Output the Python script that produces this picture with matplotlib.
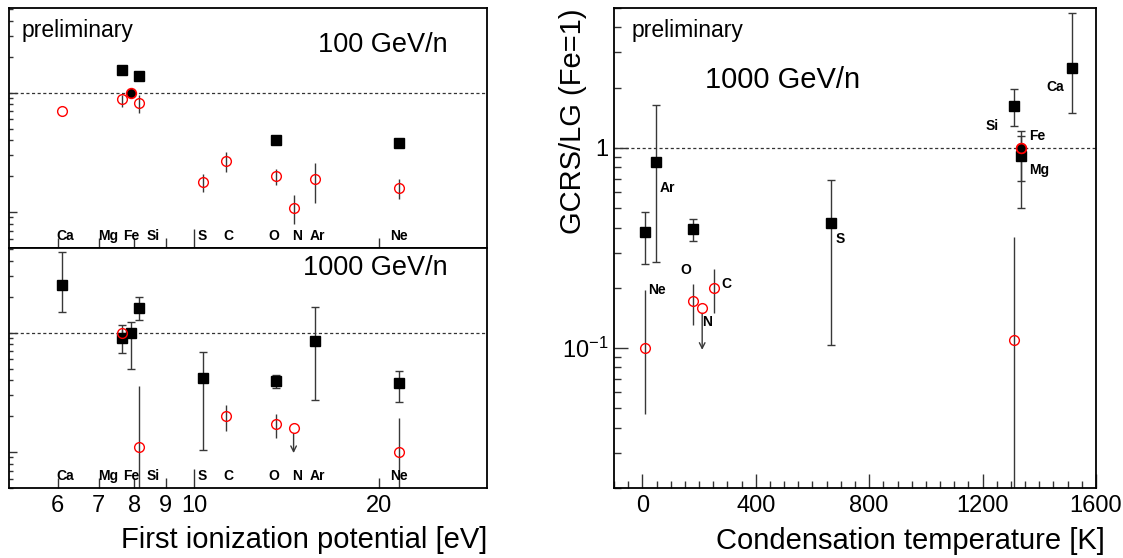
import numpy as np
import matplotlib.pyplot as plt
from matplotlib.ticker import FixedLocator, FixedFormatter, NullFormatter, LogLocator, MultipleLocator

plt.rcParams['font.family'] = ['Liberation Sans', 'DejaVu Sans']
plt.rcParams['mathtext.default'] = 'regular'

nan = np.nan

ELEMENTS = ['Ca', 'Mg', 'Fe', 'Si', 'S', 'C', 'O', 'N', 'Ar', 'Ne']
FIP_EV = [6.11, 7.65, 7.90, 8.15, 10.36, 11.26, 13.62, 14.53, 15.76, 21.56]
COND_TEMP_K = [1517, 1336, 1334, 1310, 664, 251, 180, 211, 47, 9]
FE = ELEMENTS.index('Fe')

# 100 GeV/n : black squares / red open circles
SQ_100 = [nan, 1.53, nan, 1.38, nan, nan, 0.397, nan, nan, 0.377]
CI_100 = [0.707, 0.891, nan, 0.815, 0.178, 0.268, 0.200, 0.109, 0.188, 0.158]
CI_100_HI = [0.707, 0.956, nan, 0.956, 0.209, 0.317, 0.228, 0.140, 0.256, 0.188]
CI_100_LO = [0.707, 0.764, nan, 0.672, 0.148, 0.218, 0.169, 0.080, 0.120, 0.129]
FE_REF_100 = [1.0, 1.08, 0.93]

# 1000 GeV/n
SQ_1000 = [2.52, 0.908, 1.0, 1.62, 0.42, nan, 0.394, nan, 0.847, 0.381]
SQ_1000_HI = [4.71, 1.15, 1.22, 1.98, 0.69, nan, 0.443, nan, 1.63, 0.48]
SQ_1000_LO = [1.49, 0.68, 0.50, 1.28, 0.104, nan, 0.343, nan, 0.27, 0.262]
CI_1000 = [nan, 1.0, nan, 0.11, nan, 0.20, 0.171, 0.159, nan, 0.10]
CI_1000_HI = [nan, 1.06, nan, 0.36, nan, 0.248, 0.209, nan, nan, 0.194]
CI_1000_LO = [nan, 0.95, nan, 0.01, nan, 0.15, 0.131, nan, nan, 0.047]
N_LIMIT_1000 = 0.098

# label layout
FIP_LABEL_X = [6.18, 7.24, 7.91, 8.58, 10.33, 11.4, 13.5, 14.7, 15.9, 21.6]
TC_LABEL_ANCHOR = ['sq', 'sq', 'sq', 'sq', 'sq', 'ci', 'ci', 'ci', 'sq', 'ci']
TC_LABEL_OFFSET = [(-17, -19), (18, -14), (17, 12), (-22, -20), (10, -16),
                   (13, 4), (-8, 31), (5, -14), (12, -26), (12, 58)]

ERR_COLOR = '#383838'


def errs(val, hi, lo):
    val = np.array(val, float)
    return [val - np.array(lo, float), np.array(hi, float) - val]


def squares(ax, x, val, hi=None, lo=None, skip=None):
    x = np.array(x, float)
    val = np.array(val, float)
    if hi is not None:
        ax.errorbar(x, val, yerr=errs(val, hi, lo), fmt='none', ecolor=ERR_COLOR,
                    elinewidth=1.0, capsize=3.2, capthick=1.0, zorder=2)
    shown = val.copy()
    if skip is not None:
        shown[skip] = nan
    ax.plot(x, shown, 's', color='black', ms=6.6, zorder=3)


def circles(ax, x, val, hi, lo):
    x = np.array(x, float)
    val = np.array(val, float)
    ax.errorbar(x, val, yerr=errs(val, hi, lo), fmt='none', ecolor=ERR_COLOR,
                elinewidth=1.0, capsize=0, zorder=2)
    ax.plot(x, val, 'o', mfc='none', mec='red', mew=1.0, ms=7, zorder=4)


def fe_reference(ax, x, ref):
    ax.errorbar([x], [ref[0]], yerr=[[ref[0] - ref[2]], [ref[1] - ref[0]]], fmt='none',
                ecolor=ERR_COLOR, elinewidth=1.0, capsize=0, zorder=2)
    ax.plot([x], [ref[0]], 'o', mfc='black', mec='red', mew=1.2, ms=7, zorder=5)


def upper_limit(ax, x, y0, y1):
    ax.annotate('', xy=(x, y1), xytext=(x, y0),
                arrowprops=dict(arrowstyle='->', color=ERR_COLOR, lw=1.0,
                                shrinkA=4, shrinkB=0, mutation_scale=10))


def setup_fip_axis(ax, show_labels):
    ax.set_xscale('log')
    ax.set_yscale('log')
    ax.set_xlim(5, 30)
    ax.set_ylim(0.05, 5.1)
    ax.xaxis.set_major_locator(FixedLocator([10]))
    ax.xaxis.set_minor_locator(FixedLocator([6, 7, 8, 9, 20]))
    if show_labels:
        ax.xaxis.set_major_formatter(FixedFormatter(['10']))
        ax.xaxis.set_minor_formatter(FixedFormatter(['6', '7', '8', '9', '20']))
    else:
        ax.xaxis.set_major_formatter(NullFormatter())
        ax.xaxis.set_minor_formatter(NullFormatter())
    ax.yaxis.set_major_locator(FixedLocator([0.1, 1]))
    ax.yaxis.set_minor_locator(LogLocator(base=10, subs=np.arange(2, 10)))
    ax.yaxis.set_major_formatter(NullFormatter())
    ax.yaxis.set_minor_formatter(NullFormatter())
    ax.tick_params(which='both', direction='in', top=False, right=False,
                   labelsize=17, pad=5, width=1.0, color='#333333')
    ax.tick_params(axis='x', which='major', length=14)
    ax.tick_params(axis='x', which='minor', length=7)
    ax.tick_params(axis='y', which='major', length=6)
    ax.tick_params(axis='y', which='minor', length=3)
    for s in ax.spines.values():
        s.set_linewidth(1.3)
    ax.axhline(1, ls=(0, (2.5, 2)), lw=0.9, color='#333333', zorder=1)
    for name, lx in zip(ELEMENTS, FIP_LABEL_X):
        ax.text(lx, 0.05, name, transform=ax.get_xaxis_transform(), ha='center',
                va='center', fontsize=10, fontweight='bold')


fig = plt.figure(figsize=(11.23, 5.58), dpi=100)
ax_top = fig.add_axes([9 / 1123, 310 / 558, 478 / 1123, 240 / 558])
ax_bot = fig.add_axes([9 / 1123, 70 / 558, 478 / 1123, 240 / 558])
ax_r = fig.add_axes([614 / 1123, 70 / 558, 482 / 1123, 480 / 558])

# upper left : 100 GeV/n
setup_fip_axis(ax_top, False)
squares(ax_top, FIP_EV, SQ_100)
circles(ax_top, FIP_EV, CI_100, CI_100_HI, CI_100_LO)
fe_reference(ax_top, FIP_EV[FE], FE_REF_100)
ax_top.text(0.027, 0.908, 'preliminary', transform=ax_top.transAxes, fontsize=16.5,
            ha='left', va='center')
ax_top.text(0.918, 0.846, '100 GeV/n', transform=ax_top.transAxes, fontsize=19.5,
            ha='right', va='center')

# lower left : 1000 GeV/n
setup_fip_axis(ax_bot, True)
squares(ax_bot, FIP_EV, SQ_1000, SQ_1000_HI, SQ_1000_LO)
circles(ax_bot, FIP_EV, CI_1000, CI_1000_HI, CI_1000_LO)
n_idx = ELEMENTS.index('N')
upper_limit(ax_bot, FIP_EV[n_idx], CI_1000[n_idx], N_LIMIT_1000)
ax_bot.text(0.918, 0.917, '1000 GeV/n', transform=ax_bot.transAxes, fontsize=19.5,
            ha='right', va='center')
ax_bot.set_xlabel('First ionization potential [eV]', fontsize=21, loc='right')
ax_bot.xaxis.set_label_coords(1.0, -0.16)

# right : vs condensation temperature
ax_r.set_yscale('log')
ax_r.set_xlim(-100, 1600)
ax_r.set_ylim(0.02, 5)
ax_r.axhline(1, ls=(0, (2.5, 2)), lw=0.9, color='#333333', zorder=1)
squares(ax_r, COND_TEMP_K, SQ_1000, SQ_1000_HI, SQ_1000_LO, skip=FE)
circles(ax_r, COND_TEMP_K, CI_1000, CI_1000_HI, CI_1000_LO)
fe_reference(ax_r, COND_TEMP_K[FE], [1.0, 1.0, 1.0])
upper_limit(ax_r, COND_TEMP_K[n_idx], CI_1000[n_idx], N_LIMIT_1000)
for i, name in enumerate(ELEMENTS):
    yv = SQ_1000[i] if TC_LABEL_ANCHOR[i] == 'sq' else CI_1000[i]
    ax_r.annotate(name, xy=(COND_TEMP_K[i], yv), xytext=TC_LABEL_OFFSET[i],
                  textcoords='offset pixels', ha='center', va='center',
                  fontsize=10, fontweight='bold')
ax_r.text(0.037, 0.954, 'preliminary', transform=ax_r.transAxes, fontsize=16.5,
          ha='left', va='center')
ax_r.text(0.189, 0.85, '1000 GeV/n', transform=ax_r.transAxes, fontsize=21,
          ha='left', va='center')

ax_r.xaxis.set_major_locator(MultipleLocator(400))
ax_r.xaxis.set_minor_locator(MultipleLocator(50))
ax_r.yaxis.set_major_locator(FixedLocator([0.1, 1]))
ax_r.yaxis.set_major_formatter(FixedFormatter(['$10^{-1}$', '1']))
ax_r.yaxis.set_minor_locator(LogLocator(base=10, subs=np.arange(2, 10)))
ax_r.yaxis.set_minor_formatter(NullFormatter())
ax_r.tick_params(which='both', direction='in', top=False, right=False,
                 labelsize=17, width=1.0, color='#333333')
ax_r.tick_params(axis='x', which='major', length=10, pad=5)
ax_r.tick_params(axis='y', which='major', length=10, pad=4)
ax_r.tick_params(which='minor', length=5)
for s in ax_r.spines.values():
    s.set_linewidth(1.3)
ax_r.set_ylabel('GCRS/LG (Fe=1)', fontsize=21, loc='top')
ax_r.yaxis.set_label_coords(-0.055, 1.0)
ax_r.set_xlabel('Condensation temperature [K]', fontsize=21, loc='right')
ax_r.xaxis.set_label_coords(1.019, -0.081)

fig.savefig('out.png', dpi=100)
